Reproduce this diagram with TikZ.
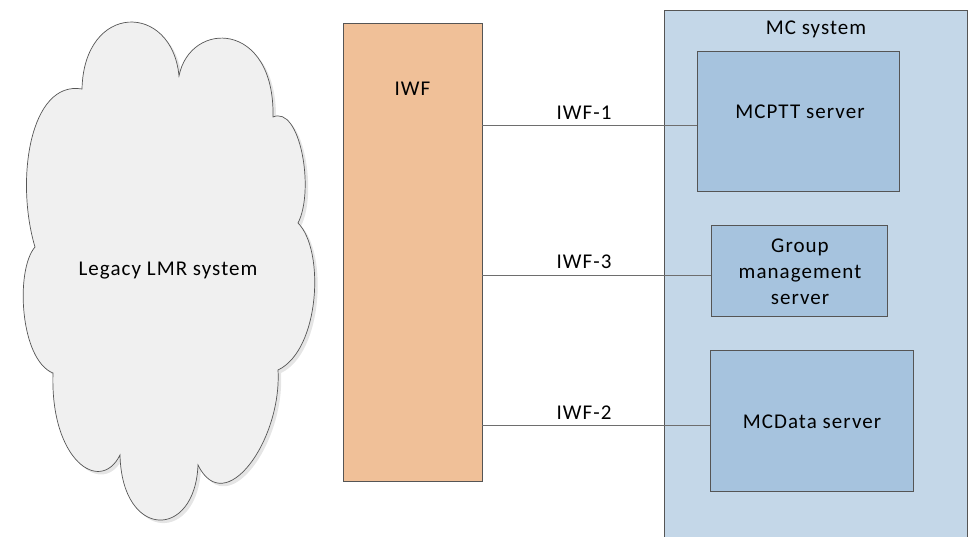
\documentclass[tikz,border=0pt]{standalone}
\usepackage{fontspec}
\setmainfont{Carlito}[LetterSpace=5]
\definecolor{iwffill}{RGB}{240,192,152}
\definecolor{mcfill}{RGB}{196,215,232}
\definecolor{srvfill}{RGB}{166,195,222}
\definecolor{cloudfill}{RGB}{240,240,240}
\definecolor{edgegray}{RGB}{85,85,85}
\definecolor{linkgray}{RGB}{110,110,110}
\tikzset{
  box/.style={draw=edgegray, line width=0.8pt, inner sep=0pt, outer sep=0pt},
  srvbox/.style={box, fill=srvfill},
  txt/.style={font=\fontsize{21}{26}\selectfont, inner sep=0pt, anchor=base},
  link/.style={draw=linkgray, line width=0.8pt},
}
% outline of the legacy system cloud (screen coordinates, y downwards)
\def\cloudpath{(82,89) .. controls (84,2) and (172,2) .. (179,76)
  .. controls (190,20) and (275,20) .. (273,117)
  .. controls (300,105) and (315,190) .. (298,223)
  .. controls (325,250) and (320,350) .. (278,370)
  .. controls (282,440) and (225,520) .. (198,465)
  .. controls (195,540) and (122,540) .. (120,455)
  .. controls (100,495) and (50,460) .. (53,373)
  .. controls (20,360) and (15,270) .. (35,247)
  .. controls (15,180) and (30,80) .. (82,89) -- cycle}
\begin{document}
\begin{tikzpicture}[x=1pt, y=-1pt]
  \clip (0,0) rectangle (968,536);

  % legacy LMR cloud with a soft drop shadow
  \fill[black!10, shift={(3,3)}] \cloudpath;
  \filldraw[fill=cloudfill, draw=edgegray, line width=0.7pt] \cloudpath;
  \node[txt] (lmr) at (168,275) {Legacy LMR system};

  % interworking function
  \node[box, fill=iwffill, minimum width=139pt, minimum height=458pt] (iwf) at (412.5,252) {};
  \node[txt] (iwftxt) at (412.5,95) {IWF};

  % mission critical system and its servers
  \node[box, fill=mcfill, minimum width=303pt, minimum height=560pt] (mc) at (815.5,290) {};
  \node[txt] (mctxt) at (816,34) {MC system};

  \node[srvbox, minimum width=202pt, minimum height=140pt] (mcptt) at (798,121) {};
  \node[txt] (mcptttxt) at (800,118) {MCPTT server};

  \node[srvbox, minimum width=176pt, minimum height=91pt] (grp) at (799,270.5) {};
  \node[txt, align=center, anchor=center] (grptxt) at (800,272) {Group\\management\\server};

  \node[srvbox, minimum width=203pt, minimum height=141pt] (mcd) at (811.5,420.5) {};
  \node[txt] (mcdtxt) at (812,428) {MCData server};

  % reference points
  \coordinate (r1) at ([yshift=-4pt]mcptt.west);
  \coordinate (r3) at ([yshift=-4.5pt]grp.west);
  \coordinate (r2) at ([yshift=-4.5pt]mcd.west);

  \draw[link] (r1 -| iwf.east) -- (r1);
  \draw[link] (r3 -| iwf.east) -- (r3);
  \draw[link] (r2 -| iwf.east) -- (r2);

  \node[txt] (l1) at (584,119) {IWF-1};
  \node[txt] (l3) at (584,268) {IWF-3};
  \node[txt] (l2) at (584,419) {IWF-2};
\end{tikzpicture}
\end{document}
